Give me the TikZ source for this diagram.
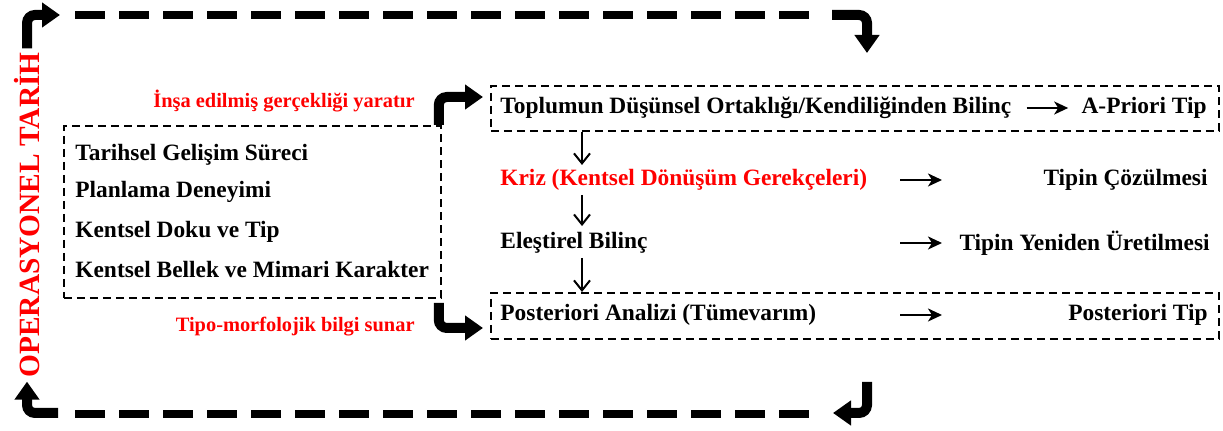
\documentclass[tikz,border=0pt]{standalone}
\usepackage{fontspec}
\setmainfont{Liberation Serif}
\usetikzlibrary{arrows.meta}

\tikzset{
  kalin/.style={line width=5pt, rounded corners=4pt, -{Triangle[length=9pt,width=12pt]}},
  kesik/.style={line width=4pt, dash pattern=on 15pt off 7pt},
  kutu/.style={draw, line width=0.9pt, dash pattern=on 4pt off 2.5pt, inner sep=0pt},
  yazi/.style={font=\fontsize{11.7}{14}\selectfont\bfseries, inner sep=0pt},
  kirmizi/.style={font=\fontsize{10.2}{12}\selectfont\bfseries, text=red, inner sep=0pt},
  ince/.style={line width=1pt, -{Stealth[length=7pt,width=6.5pt,inset=2pt]}},
  asagi/.style={line width=1pt, -{Straight Barb[length=5pt,width=8pt]}},
}

\begin{document}
\begin{tikzpicture}[x=0.5pt,y=-0.5pt]
	\useasboundingbox (0,0) rectangle (1223,431);
	% dongu koordinatlari
	\foreach \ad/\x/\y in {ust1/60/15, ust2/75/15, ust3/820/15, ust4/832/15, sag1/867/53,
	      sag2/867/382, alt1/833/413, alt2/820/414, alt3/75/414, alt4/58/413,
	      giris1/483/97, giris2/483/328, kolon/582/0, okbas/900/0, okson/942/0}
	\coordinate (\ad) at (\x,\y);
	% dikey baslik
	\node[rotate=90, font=\fontsize{14.7}{17}\selectfont\bfseries, text=red, inner sep=0pt, outer sep=2pt] (optarih) at (27,215) {OPERASYONEL TARİH};
	\draw[kalin] (optarih.east) |- (ust1);
	\draw[kesik] (ust2) -- (ust3);
	\draw[kalin] (ust4) -| (sag1);
	\draw[kalin] (sag2) |- (alt1);
	\draw[kesik] (alt3) -- (alt2);
	\draw[kalin] (alt4) -| (optarih.west);
	% sol kutu
	\node[kutu, anchor=north west, minimum width=188.5pt, minimum height=86pt] (solkutu) at (63,125) {};
	\foreach \i/\y/\metin in {1/155/Tarihsel Gelişim Süreci, 2/192/Planlama Deneyimi,
	      3/232/Kentsel Doku ve Tip, 4/270/Kentsel Bellek ve Mimari Karakter}
	\node[yazi, anchor=west] (sol\i) at (75,\y) {\metin};
	\node[kirmizi, anchor=east] (insa) at (415,101) {İnşa edilmiş gerçekliği yaratır};
	\node[kirmizi, anchor=east] (tipo) at (415,327) {Tipo-morfolojik bilgi sunar};
	\draw[kalin] ([xshift=-1.5pt]solkutu.north east) |- (giris1);
	\draw[kalin] ([xshift=-1.5pt,yshift=-2pt]solkutu.south east) |- (giris2);
	% sag taraf
	\node[kutu, anchor=north west, minimum width=364pt, minimum height=22.5pt] (kutu1) at (490,85) {};
	\node[kutu, anchor=north west, minimum width=364pt, minimum height=23pt] (kutu2) at (490,292) {};
	\node[yazi, anchor=west] (toplum) at (500,108) {Toplumun Düşünsel Ortaklığı/Kendiliğinden Bilinç};
	\node[yazi, anchor=east] (apriori) at (1207,108) {A-Priori Tip};
	\node[yazi, anchor=west, text=red] (kriz) at (500,180) {Kriz (Kentsel Dönüşüm Gerekçeleri)};
	\node[yazi, anchor=east] (cozul) at (1208,180) {Tipin Çözülmesi};
	\node[yazi, anchor=west] (elestirel) at (500,243) {Eleştirel Bilinç};
	\node[yazi, anchor=east] (uretim) at (1210,243) {Tipin Yeniden Üretilmesi};
	\node[yazi, anchor=west] (posteriori) at (500,315) {Posteriori Analizi (Tümevarım)};
	\node[yazi, anchor=east] (ptip) at (1208,315) {Posteriori Tip};
	\draw[ince] ([xshift=7.5pt]toplum.east) -- ([xshift=-6.5pt]apriori.west);
	\foreach \a in {kriz,elestirel,posteriori}
	\draw[ince] (\a -| okbas) -- (\a -| okson);
	\draw[asagi] (kutu1.south -| kolon) -- ([yshift=2pt]kriz.north -| kolon);
	\draw[asagi] ([yshift=-2pt]kriz.south -| kolon) -- ([yshift=3pt]elestirel.north -| kolon);
	\draw[asagi] ([yshift=-2pt]elestirel.south -| kolon) -- (kutu2.north -| kolon);
\end{tikzpicture}
\end{document}
